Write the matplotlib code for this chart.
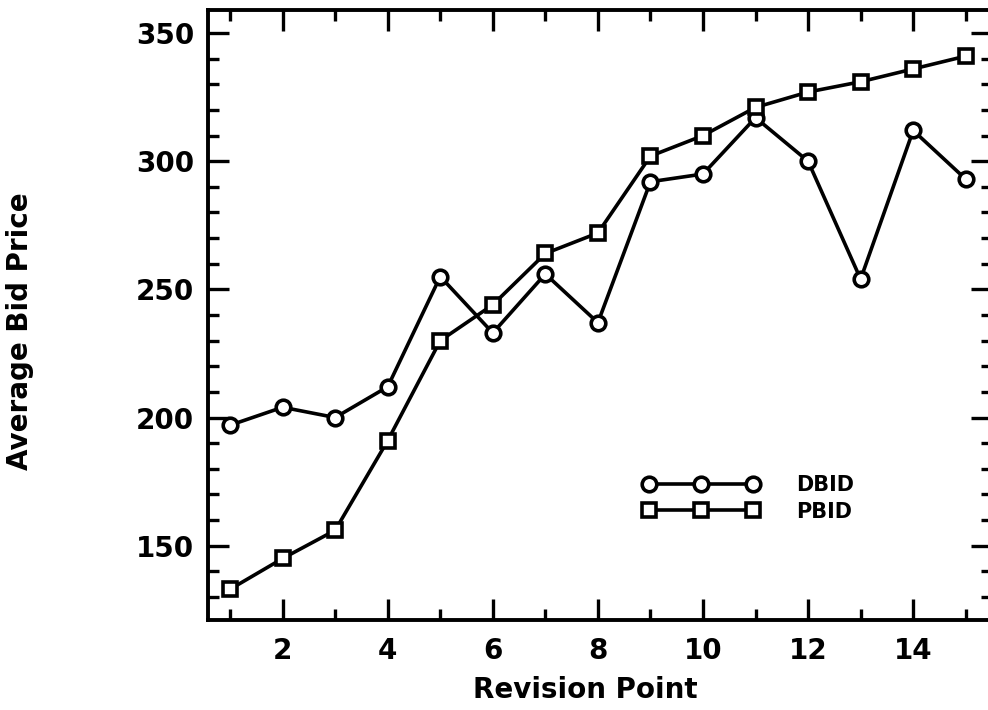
import matplotlib
matplotlib.use("Agg")
import matplotlib.pyplot as plt
from matplotlib.ticker import MultipleLocator

plt.rcParams['font.family'] = ['DejaVu Sans']
plt.rcParams['font.weight'] = 'bold'

revision = [1, 2, 3, 4, 5, 6, 7, 8, 9, 10, 11, 12, 13, 14, 15]
dbid = [197, 204, 200, 212, 255, 233, 256, 237, 292, 295, 317, 300, 254, 312, 293]
pbid = [133, 145, 156, 191, 230, 244, 264, 272, 302, 310, 321, 327, 331, 336, 341]

fig = plt.figure(figsize=(9.88, 7.10), dpi=100)
ax = fig.add_axes([208/988, 1 - 620/710, 784/988, 610/710])

lw = 2.6
ax.plot(revision, dbid, color='black', lw=lw, marker='o', ms=10.5,
        mfc='white', mec='black', mew=2.6, label='DBID')
ax.plot(revision, pbid, color='black', lw=lw, marker='s', ms=10,
        mfc='white', mec='black', mew=2.6, label='PBID')

ax.set_xlim(0.58, 15.5)
ax.set_ylim(121, 359)
ax.xaxis.set_major_locator(MultipleLocator(2))
ax.xaxis.set_minor_locator(MultipleLocator(1))
ax.yaxis.set_major_locator(MultipleLocator(50))
ax.yaxis.set_minor_locator(MultipleLocator(10))

for s in ax.spines.values():
    s.set_linewidth(2.8)

ax.tick_params(which='both', direction='in', top=True, right=True, width=2.4)
ax.tick_params(which='major', length=15)
ax.tick_params(which='minor', length=8)
ax.tick_params(axis='y', which='major', labelsize=20, pad=10)
ax.tick_params(axis='x', which='major', labelsize=20, pad=12)
for lab in ax.get_xticklabels() + ax.get_yticklabels():
    lab.set_fontweight('bold')

ax.set_xlabel('Revision Point', fontsize=20, fontweight='bold')
ax.set_ylabel('Average Bid Price', fontsize=20, fontweight='bold')
ax.xaxis.set_label_coords(0.481, -0.092)
ax.yaxis.set_label_coords(-0.222, 0.474)

leg = ax.legend(loc='upper left', bbox_to_anchor=(0.53, 0.268), numpoints=3,
                handlelength=5.6, handletextpad=1.8, labelspacing=0.3,
                frameon=False, prop={'size': 15, 'weight': 'bold'})

fig.savefig('out.png', dpi=100)
